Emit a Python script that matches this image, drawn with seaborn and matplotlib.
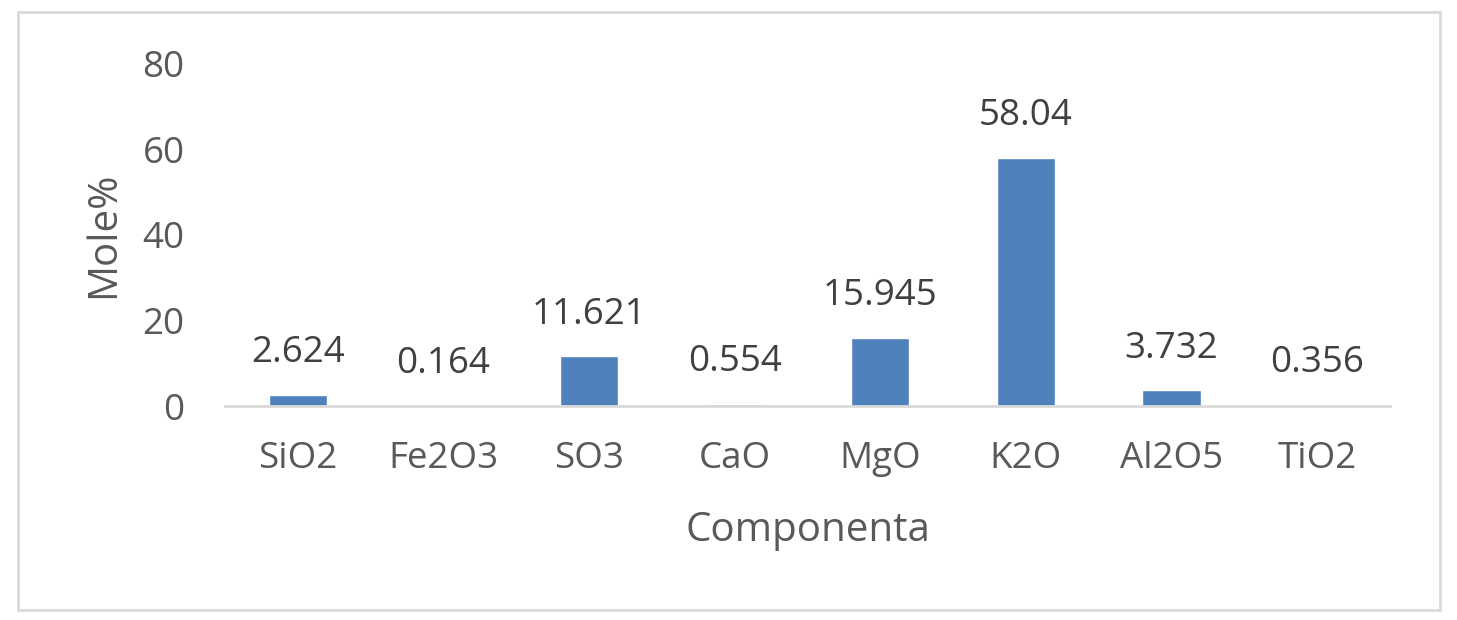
import matplotlib
matplotlib.use("Agg")
import matplotlib.pyplot as plt
import matplotlib.patches as patches
import seaborn as sns

components = ["SiO2", "Fe2O3", "SO3", "CaO", "MgO", "K2O", "Al2O5", "TiO2"]
mole_pct = [2.624, 0.164, 11.621, 0.554, 15.945, 58.04, 3.732, 0.356]
value_labels = ["2.624", "0.164", "11.621", "0.554", "15.945", "58.04", "3.732", "0.356"]
y_ticks = [0, 20, 40, 60, 80]

sns.set_style("white")
plt.rcParams["font.family"] = ["Open Sans", "DejaVu Sans"]

text_gray = "#595959"
line_gray = "#D9D9D9"

fig = plt.figure(figsize=(14.57, 6.2), dpi=100)
ax = fig.add_axes([0.1544, 0.345, 0.7996, 0.552])

sns.barplot(x=components, y=mole_pct, color="#4F81BD", saturation=1,
            width=0.4, ax=ax)

ax.set_ylim(0, 80)
ax.set_yticks(y_ticks)
ax.set_xlim(-0.5, len(components) - 0.5)

for side in ["top", "right", "left"]:
    ax.spines[side].set_visible(False)
ax.spines["bottom"].set_color(line_gray)
ax.spines["bottom"].set_linewidth(2)

ax.tick_params(axis="y", length=0, pad=29, labelsize=26.5, labelcolor=text_gray)
ax.tick_params(axis="x", length=0, pad=25, labelsize=26.5, labelcolor=text_gray)

ax.set_xlabel("Componenta", fontsize=29, color=text_gray, labelpad=24)
ax.set_ylabel("Mole%", fontsize=29, color=text_gray, labelpad=13)

ax.bar_label(ax.containers[0], labels=value_labels, padding=17,
             fontsize=26.5, color="#404040")

# outer chart border
fig.patches.append(patches.Rectangle((18 / 1457, 1 - 610 / 620),
                                     (1440 - 18) / 1457, (610 - 12) / 620,
                                     transform=fig.transFigure, fill=False,
                                     edgecolor=line_gray, linewidth=2))

fig.savefig("out.png", dpi=100)
